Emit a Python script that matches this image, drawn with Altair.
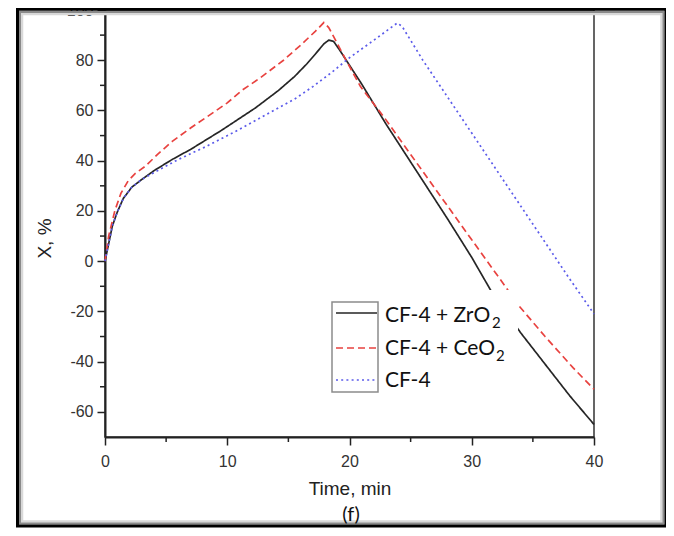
import altair as alt
import pandas as pd

# ---- data ----
series = ["CF-4 + ZrO2", "CF-4 + CeO2", "CF-4"]
legend_main = ["CF-4 + ZrO", "CF-4 + CeO", "CF-4"]
legend_sub = ["2", "2", ""]

t_zr = [0, 0.3, 0.6, 1.0, 1.5, 2.2, 3, 4, 5.5, 7, 9.5, 12.3, 14.2, 15.5, 16.5, 17.3,
        17.9, 18.3, 18.7, 19.2, 20, 21, 22, 23, 24, 26, 28, 30, 31.6, 34, 36, 38, 40]
x_zr = [0, 7, 14, 19.5, 25, 29.5, 32.5, 36, 40.5, 44.5, 52, 61, 68, 73.5, 78.5, 83,
        86.5, 88, 87.5, 84, 78, 70.5, 62.5, 54.5, 47, 32, 17, 1.5, -12, -28.5, -41, -53.5, -65]

t_ce = [0, 0.3, 0.8, 1.3, 1.9, 2.5, 3.3, 4.3, 5.5, 7, 8.2, 10, 11.2, 12.7, 14.6, 16,
        17.2, 17.9, 18.3, 18.8, 19.5, 20.9, 22.8, 24, 26, 28, 30, 32, 33.9, 36, 38.3, 40]
x_ce = [0, 10, 20, 27, 32, 35, 37.8, 42.5, 47.7, 53, 57, 63, 68, 73, 80, 86,
        91.5, 95, 93, 88.5, 82, 69.5, 57.5, 49.3, 35.7, 22.1, 8.5, -5, -18, -30, -42.5, -51]

t_cf = [0, 0.3, 0.6, 1.0, 1.5, 2.2, 3, 4.4, 6, 8.2, 10.9, 13.6, 15.5, 17, 18.5, 20,
        22, 23.9, 24.3, 26, 28, 30, 32, 34, 36, 38, 40]
x_cf = [0, 7, 14, 19.5, 25, 29.5, 32.5, 36.3, 40.5, 45.5, 52.2, 59.5, 64.5, 69.5, 75, 81,
        88, 94.8, 93.5, 80, 65.5, 51, 36.5, 22, 7.5, -7, -21]

x_major = [0, 10, 20, 30, 40]
x_minor = [5, 15, 25, 35]
y_major = [-60, -40, -20, 0, 20, 40, 60, 80, 100]
y_minor = [-50, -30, -10, 10, 30, 50, 70, 90]

colors = ["#262626", "#e8423f", "#5b5bea"]
dashes = [[1, 0], [7, 4], [2, 3.2]]

rows = []
for name, ts, xs in zip(series, [t_zr, t_ce, t_cf], [x_zr, x_ce, x_cf]):
    for t, x in zip(ts, xs):
        rows.append({"t": t, "X": x, "series": name})
df = pd.DataFrame(rows)

W, H = 489, 427
LBL_FONT = "Liberation Sans"
LEG_FONT = "Lato"

xscale = alt.Scale(domain=[0, 40], nice=False, zero=False)
yscale = alt.Scale(domain=[-70, 100], nice=False, zero=False)
xaxis = alt.Axis(values=x_major, title="Time, min", labelExpr="toString(datum.value)")
yaxis = alt.Axis(values=y_major, title="X, %", labelExpr="toString(datum.value)")

empty = alt.Data(values=[{}])

# outer picture frame (decoration)
frame = alt.Chart(empty).mark_rect(filled=False, stroke="#000", strokeWidth=3).encode(
    x=alt.value(-87.5), x2=alt.value(561), y=alt.value(-0.8), y2=alt.value(516))
frame2 = alt.Chart(empty).mark_rect(filled=False, stroke="#8a8a8a", strokeWidth=2).encode(
    x=alt.value(-85), x2=alt.value(558.5), y=alt.value(2), y2=alt.value(513.5))
frame3 = alt.Chart(empty).mark_rect(filled=False, stroke="#d8d8d8", strokeWidth=2.5).encode(
    x=alt.value(-83), x2=alt.value(556.5), y=alt.value(4), y2=alt.value(511.5))

lines = alt.Chart(df).mark_line(strokeWidth=1.7).encode(
    x=alt.X("t:Q", scale=xscale, axis=xaxis),
    y=alt.Y("X:Q", scale=yscale, axis=yaxis),
    color=alt.Color("series:N", scale=alt.Scale(domain=series, range=colors), legend=None),
    strokeDash=alt.StrokeDash("series:N", scale=alt.Scale(domain=series, range=dashes), legend=None),
    order=alt.Order("t:Q"),
)

xmin_df = pd.DataFrame({"t": x_minor})
ymin_df = pd.DataFrame({"X": y_minor})
xminor = alt.Chart(xmin_df).mark_rule(color="#222", strokeWidth=1.5).encode(
    x=alt.X("t:Q", scale=xscale, axis=xaxis), y=alt.value(H), y2=alt.value(H + 5))
yminor = alt.Chart(ymin_df).mark_rule(color="#222", strokeWidth=1.5).encode(
    y=alt.Y("X:Q", scale=yscale, axis=yaxis), x=alt.value(0), x2=alt.value(-5))

# legend (drawn by hand, like the original)
leg_bg = alt.Chart(empty).mark_rect(fill="white").encode(
    x=alt.value(227), x2=alt.value(413), y=alt.value(280), y2=alt.value(385))
leg_box = alt.Chart(empty).mark_rect(filled=False, stroke="#8c8c8c", strokeWidth=1.5).encode(
    x=alt.value(227), x2=alt.value(273), y=alt.value(292), y2=alt.value(382))

leg_layers = []
sym_y = [303, 338, 370]
txt_y = [312, 345, 377]
sub_x = [387, 391, 0]
for i in range(3):
    leg_layers.append(
        alt.Chart(empty).mark_rule(color=colors[i], strokeDash=dashes[i], strokeWidth=1.6).encode(
            x=alt.value(231), x2=alt.value(272), y=alt.value(sym_y[i]))
    )
    leg_layers.append(
        alt.Chart(alt.Data(values=[{"label": legend_main[i]}])).mark_text(
            align="left", baseline="alphabetic", font=LEG_FONT, fontSize=21, color="#111"
        ).encode(x=alt.value(280), y=alt.value(txt_y[i]), text="label:N")
    )
    if legend_sub[i]:
        leg_layers.append(
            alt.Chart(alt.Data(values=[{"label": legend_sub[i]}])).mark_text(
                align="left", baseline="alphabetic", font=LEG_FONT, fontSize=15, color="#111"
            ).encode(x=alt.value(sub_x[i]), y=alt.value(txt_y[i] + 6), text="label:N")
        )

flabel = alt.Chart(alt.Data(values=[{"label": "(f)"}])).mark_text(
    align="center", baseline="middle", font=LEG_FONT, fontSize=20, color="#111"
).encode(x=alt.value(246), y=alt.value(505), text="label:N")

chart = alt.layer(
    frame3, frame2, lines, xminor, yminor, leg_bg, leg_box, *leg_layers, frame, flabel
).properties(
    width=W, height=H,
    padding={"left": 97, "top": 2, "right": 72, "bottom": 91},
    autosize=alt.AutoSizeParams(type="none"),
    background="white",
).configure_view(
    stroke="#333", strokeWidth=1.5
).configure_axis(
    grid=False, labelFlush=False,
    domainColor="#222", domainWidth=2,
    tickColor="#222", tickWidth=1.5, tickSize=8,
    labelFont=LBL_FONT, labelFontSize=16, labelColor="#333",
    titleFont=LBL_FONT, titleFontSize=19, titleFontWeight="normal", titleColor="#222",
).configure_axisX(
    labelPadding=8, titleBaseline="alphabetic", titleY=57,
).configure_axisY(
    labelPadding=4, titleX=-61, titleY=228, titleBaseline="middle", titleAlign="center",
)

chart.save("out.html", embed_options={"renderer": "svg", "actions": False})
